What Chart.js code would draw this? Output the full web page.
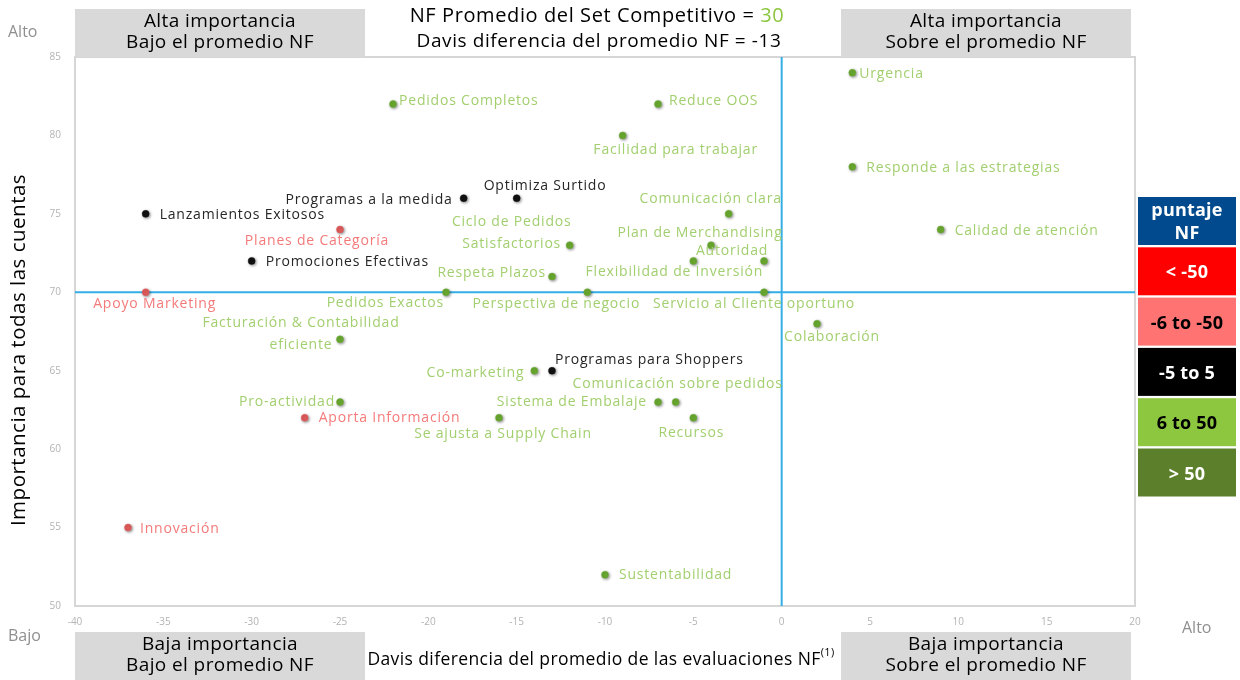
<!DOCTYPE html>
<html>
<head>
<meta charset="utf-8">
<script src="https://cdn.jsdelivr.net/npm/chart.js@4/dist/chart.umd.min.js"></script>
<style>
  html, body { margin: 0; padding: 0; background: #ffffff; }
  #wrap { width: 1240px; height: 680px; position: relative; }
</style>
</head>
<body>
<div id="wrap"><canvas id="c" width="1240" height="680"></canvas></div>
<script>
// ---------- DATA ----------
const attributeNames = [
  ["Pedidos Completos"], ["Reduce OOS"], ["Facilidad para trabajar"], ["Urgencia"],
  ["Responde a las estrategias"], ["Calidad de atención"], ["Lanzamientos Exitosos"],
  ["Programas a la medida"], ["Optimiza Surtido"], ["Planes de Categoría"],
  ["Promociones Efectivas"], ["Apoyo Marketing"], ["Comunicación clara"],
  ["Plan de Merchandising"], ["Autoridad"], ["Flexibilidad de Inversión"],
  ["Ciclo de Pedidos", "Satisfactorios"], ["Respeta Plazos"], ["Pedidos Exactos"],
  ["Perspectiva de negocio"], ["Servicio al Cliente oportuno"], ["Colaboración"],
  ["Facturación & Contabilidad", "eficiente"], ["Programas para Shoppers"],
  ["Co-marketing"], ["Comunicación sobre pedidos"], ["Sistema de Embalaje"],
  ["Pro-actividad"], ["Aporta Información"], ["Se ajusta a Supply Chain"],
  ["Recursos"], ["Innovación"], ["Sustentabilidad"]
];
const nfDifference = [ -22, -7, -9, 4, 4, 9, -36, -18, -15, -25, -30, -36, -3, -4, -1, -5,
                       -12, -13, -19, -11, -1, 2, -25, -13, -14, -6, -7, -25, -27, -16, -5, -37, -10 ];
const importance   = [ 82, 82, 80, 84, 78, 74, 75, 76, 76, 74, 72, 70, 75, 73, 72, 72,
                       73, 71, 70, 70, 70, 68, 67, 65, 65, 63, 63, 63, 62, 62, 62, 55, 52 ];
// NF score band of each attribute: 'pos' = 6 to 50, 'neu' = -5 to 5, 'neg' = -6 to -50
const scoreBand    = [ 'pos','pos','pos','pos','pos','pos','neu','neu','neu','neg','neu','neg','pos','pos','pos','pos',
                       'pos','pos','pos','pos','pos','pos','pos','neu','pos','pos','pos','pos','neg','pos','pos','neg','pos' ];
const xTickRange = { min: -40, max: 20, step: 5 };
const yTickRange = { min: 50, max: 85, step: 5 };
const avgImportance = 70;
const avgDifference = 0;
const competitiveSetNF = 30;
const davisDiffNF = -13;
const legendLabels = ["puntaje\nNF", "< -50", "-6 to -50", "-5 to 5", "6 to 50", "> 50"];

// ---------- STYLE / LABEL PLACEMENT (not data) ----------
// [dx, dy, align]
const labelPlacement = [
  [6,-3,'left'], [11,-3,'left'], [53,15,'center'], [7,1,'left'],
  [14,1,'left'], [14,1,'left'], [14,1,'left'],
  [-11,2,'right'], [-33,-12,'left'], [-23,11,'center'],
  [14,1,'left'], [9,12,'center'], [-18,-15,'center'],
  [-11,-12,'center'], [-32,-10,'center'], [-19,11,'center'],
  [-58,-23,'center'], [-6,-4,'right'], [-2,11,'right'],
  [-31,12,'center'], [-10,12,'center'], [15,13,'center'],
  [-39,-16,'center'], [3,-11,'left'],
  [-10,2,'right'], [2,-18,'center'], [-11,0,'right'],
  [-5,0,'right'], [14,0,'left'], [4,16,'center'],
  [-2,15,'center'], [12,1,'left'], [14,0,'left']
];
const bandPointColor = { pos: '#6aaa30', neu: '#111111', neg: '#e25c5c' };
const bandLabelColor = { pos: '#a2cf6f', neu: '#262626', neg: '#f47a7a' };
const legendColors = [
  ['#004a8d','#ffffff'], ['#ff0000','#ffffff'], ['#ff7373','#000000'],
  ['#000000','#ffffff'], ['#8dc63f','#000000'], ['#5b7f2a','#ffffff']
];
const FONT = '"Open Sans", "Liberation Sans", sans-serif';

const points = nfDifference.map((x, i) => ({ x: x, y: importance[i] }));

function spaced(ctx, px) { if ('letterSpacing' in ctx) ctx.letterSpacing = px + 'px'; }

const decorPlugin = {
  id: 'decor',
  beforeDatasetsDraw(chart) {
    const { ctx, chartArea: a, scales } = chart;
    ctx.save();
    ctx.strokeStyle = '#d6d6d6';
    ctx.lineWidth = 2;
    ctx.strokeRect(a.left, a.top, a.right - a.left, a.bottom - a.top);
    ctx.strokeStyle = '#35aee6';
    ctx.lineWidth = 2;
    const yv = scales.y.getPixelForValue(avgImportance);
    const xv = scales.x.getPixelForValue(avgDifference);
    ctx.beginPath();
    ctx.moveTo(a.left, yv); ctx.lineTo(a.right, yv);
    ctx.moveTo(xv, a.top); ctx.lineTo(xv, a.bottom);
    ctx.stroke();
    ctx.restore();
    ctx.save();
    ctx.shadowColor = 'rgba(0,0,0,0.45)';
    ctx.shadowBlur = 3;
    ctx.shadowOffsetX = 1;
    ctx.shadowOffsetY = 1;
  },
  afterDatasetsDraw(chart) {
    const { ctx } = chart;
    ctx.restore();
    ctx.save();
    const meta = chart.getDatasetMeta(0);
    ctx.font = '14px ' + FONT;
    spaced(ctx, 0.8);
    ctx.textBaseline = 'middle';
    meta.data.forEach((el, i) => {
      const [dx, dy, align] = labelPlacement[i];
      ctx.fillStyle = bandLabelColor[scoreBand[i]];
      ctx.textAlign = align;
      attributeNames[i].forEach((line, k) => {
        ctx.fillText(line, el.x + dx, el.y + dy + k * 22);
      });
    });
    ctx.restore();
  },
  afterDraw(chart) {
    const { ctx } = chart;
    ctx.save();
    const boxes = [
      [75, 9, 'Alta importancia', 'Bajo el promedio NF'],
      [841, 9, 'Alta importancia', 'Sobre el promedio NF'],
      [75, 632, 'Baja importancia', 'Bajo el promedio NF'],
      [841, 632, 'Baja importancia', 'Sobre el promedio NF']
    ];
    boxes.forEach(([x, y, t1, t2]) => {
      ctx.fillStyle = '#d9d9d9';
      ctx.fillRect(x, y, 290, 48);
      ctx.fillStyle = '#000000';
      ctx.font = '19px ' + FONT;
      spaced(ctx, 0.4);
      ctx.textAlign = 'center';
      ctx.textBaseline = 'middle';
      ctx.fillText(t1, x + 145, y + 13);
      ctx.fillText(t2, x + 145, y + 34);
    });
    // title
    ctx.textBaseline = 'middle';
    ctx.font = '20px ' + FONT;
    spaced(ctx, 0.6);
    const part1 = 'NF Promedio del Set Competitivo = ';
    const part2 = String(competitiveSetNF);
    const w1 = ctx.measureText(part1).width, w2 = ctx.measureText(part2).width;
    let sx = 597 - (w1 + w2) / 2;
    ctx.textAlign = 'left';
    ctx.fillStyle = '#000';
    ctx.fillText(part1, sx, 16);
    ctx.fillStyle = '#8dc63f';
    ctx.fillText(part2, sx + w1, 16);
    ctx.fillStyle = '#000';
    ctx.font = '19px ' + FONT;
    ctx.textAlign = 'center';
    ctx.fillText('Davis diferencia del promedio NF = ' + davisDiffNF, 599, 42);
    // x axis title with superscript
    ctx.font = '17.5px ' + FONT;
    spaced(ctx, 0.4);
    const xt = 'Davis diferencia del promedio de las evaluaciones NF';
    const wx = ctx.measureText(xt).width;
    ctx.font = '11px ' + FONT;
    const ws = ctx.measureText('(1)').width;
    const xs = 601 - (wx + ws) / 2;
    ctx.textAlign = 'left';
    ctx.font = '17.5px ' + FONT;
    ctx.fillText(xt, xs, 660);
    ctx.font = '11px ' + FONT;
    ctx.fillText('(1)', xs + wx, 653);
    // y axis title
    ctx.save();
    ctx.translate(19, 350);
    ctx.rotate(-Math.PI / 2);
    ctx.font = '20.5px ' + FONT;
    spaced(ctx, 0.5);
    ctx.textAlign = 'center';
    ctx.fillText('Importancia para todas las cuentas', 0, 0);
    ctx.restore();
    // Alto/Bajo
    ctx.fillStyle = '#8f8f8f';
    ctx.font = '16px ' + FONT;
    spaced(ctx, 0);
    ctx.textAlign = 'left';
    ctx.fillText('Alto', 8, 32);
    ctx.fillText('Bajo', 8, 636);
    ctx.fillText('Alto', 1182, 628);
    // legend
    legendLabels.forEach((lab, i) => {
      const y = 197 + i * 50.3;
      ctx.fillStyle = legendColors[i][0];
      ctx.fillRect(1138, y, 98, 48);
      ctx.fillStyle = legendColors[i][1];
      ctx.font = 'bold 18px ' + FONT;
      spaced(ctx, 0.2);
      ctx.textAlign = 'center';
      const lines = lab.split('\n');
      if (lines.length === 1) {
        ctx.fillText(lines[0], 1187, y + 26);
      } else {
        ctx.fillText(lines[0], 1187, y + 14);
        ctx.fillText(lines[1], 1187, y + 37);
      }
    });
    ctx.restore();
  }
};

new Chart(document.getElementById('c'), {
  type: 'scatter',
  data: {
    datasets: [{
      data: points,
      pointRadius: 3.5,
      pointHoverRadius: 3.5,
      pointBorderWidth: 0.5,
      pointBackgroundColor: ctx => bandPointColor[scoreBand[ctx.dataIndex]],
      pointBorderColor: ctx => bandPointColor[scoreBand[ctx.dataIndex]]
    }]
  },
  options: {
    responsive: false,
    animation: false,
    events: [],
    layout: { padding: { left: 0, right: 105, top: 57, bottom: 0 } },
    plugins: { legend: { display: false }, tooltip: { enabled: false } },
    scales: {
      x: {
        type: 'linear', min: xTickRange.min, max: xTickRange.max,
        grid: { display: false, drawTicks: false },
        border: { display: false },
        ticks: { stepSize: xTickRange.step, padding: 10, color: '#b3b3b3', font: { size: 10, family: FONT } },
        afterFit(s) { s.height = 74; }
      },
      y: {
        type: 'linear', min: yTickRange.min, max: yTickRange.max,
        grid: { display: false, drawTicks: false },
        border: { display: false },
        ticks: { stepSize: yTickRange.step, padding: 14, color: '#b3b3b3', font: { size: 10, family: FONT } },
        afterFit(s) { s.width = 75; }
      }
    }
  },
  plugins: [decorPlugin]
});
</script>
</body>
</html>
